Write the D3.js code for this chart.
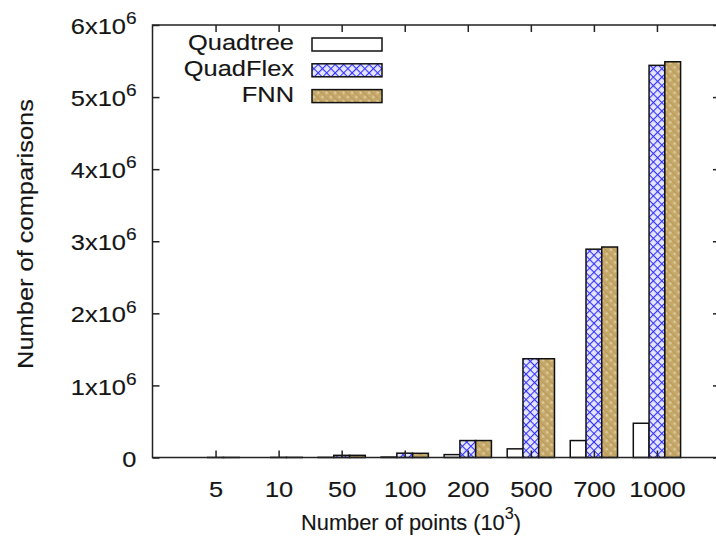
<!DOCTYPE html>
<html>
<head>
<meta charset="utf-8">
<script src="https://cdn.jsdelivr.net/npm/d3@7"></script>
<style>
  html, body { margin: 0; padding: 0; background: #fff; }
  svg { display: block; }
  text { font-family: "Liberation Sans", Arial, Helvetica, sans-serif; fill: #151515; stroke: #151515; stroke-width: 0.15; }
</style>
</head>
<body>
<svg id="chart" width="716" height="540"></svg>
<script>
// Number of comparisons per dataset size (thousands of points)
const categories = ["5", "10", "50", "100", "200", "500", "700", "1000"];
const seriesNames = ["Quadtree", "QuadFlex", "FNN"];
const quadtree = [0, 0, 2000, 6000, 40000, 120000, 235000, 475000];
const quadflex = [500, 1500, 30000, 60000, 235000, 1370000, 2890000, 5440000];
const fnn = [500, 1500, 30000, 58000, 235000, 1370000, 2920000, 5490000];
const yTicks = [0, 1e6, 2e6, 3e6, 4e6, 5e6, 6e6];

const series = [quadtree, quadflex, fnn];
const fills = ["#ffffff", "url(#hatchFlex)", "url(#hatchFnn)"];

const svg = d3.select("#chart");
const plot = { left: 152.5, right: 720, top: 25, bottom: 457.5 };
const FS = 22.5;
const SX = 1.13;   // horizontal stretch of the label lettering

const x = d3.scaleLinear().domain([-1, categories.length]).range([plot.left, plot.right]);
const y = d3.scaleLinear().domain([0, 6e6]).range([plot.bottom, plot.top]);
const barW = 0.25;

// fill patterns
const defs = svg.append("defs");
const pf = defs.append("pattern").attr("id", "hatchFlex")
  .attr("patternUnits", "userSpaceOnUse").attr("width", 6).attr("height", 6)
  .attr("patternTransform", "rotate(45)");
pf.append("rect").attr("width", 6).attr("height", 6).attr("fill", "#e6e6ff");
pf.append("line").attr("x1", 0).attr("y1", 0).attr("x2", 6).attr("y2", 0)
  .attr("stroke", "#3333ff").attr("stroke-width", 2.2);
pf.append("line").attr("x1", 0).attr("y1", 0).attr("x2", 0).attr("y2", 6)
  .attr("stroke", "#3333ff").attr("stroke-width", 2.2);

const pn = defs.append("pattern").attr("id", "hatchFnn")
  .attr("patternUnits", "userSpaceOnUse").attr("width", 6).attr("height", 6)
  .attr("patternTransform", "rotate(45)");
pn.append("rect").attr("width", 6).attr("height", 6).attr("fill", "#c5a86a");
pn.append("rect").attr("x", 1.5).attr("y", 1.5).attr("width", 2.2).attr("height", 2.2).attr("fill", "#e2d2a6");
pn.append("line").attr("x1", 0).attr("y1", 0).attr("x2", 6).attr("y2", 0)
  .attr("stroke", "#ad8d4a").attr("stroke-width", 1);

// bars
series.forEach((vals, s) => {
  svg.append("g").selectAll("rect").data(vals).join("rect")
    .attr("x", (d, i) => x(i + (s - 1) * barW - barW / 2))
    .attr("width", x(barW) - x(0))
    .attr("y", d => y(d))
    .attr("height", d => y(0) - y(d))
    .attr("fill", fills[s])
    .attr("stroke", "#111")
    .attr("stroke-width", 1.5);
});

// frame
svg.append("rect")
  .attr("x", plot.left).attr("y", plot.top)
  .attr("width", plot.right - plot.left).attr("height", plot.bottom - plot.top)
  .attr("fill", "none").attr("stroke", "#222").attr("stroke-width", 1.5);

const idx = categories.map((c, i) => i);

// bottom axis with inward ticks
const xAxis = svg.append("g").attr("transform", `translate(0,${plot.bottom})`)
  .call(d3.axisBottom(x).tickValues(idx).tickFormat(i => categories[i])
    .tickSizeInner(-7).tickSizeOuter(0).tickPadding(0));
xAxis.select(".domain").remove();
xAxis.selectAll("line").attr("stroke", "#222").attr("stroke-width", 1.5);
xAxis.selectAll("text").attr("font-size", FS).attr("y", 34).attr("dy", null)
  .attr("transform", `scale(${SX},1)`)
  .attr("dominant-baseline", "middle").attr("fill", "#151515").style("font-family", null);

// top mirrored ticks
const xTop = svg.append("g").attr("transform", `translate(0,${plot.top})`)
  .call(d3.axisTop(x).tickValues(idx).tickFormat("").tickSizeInner(-7).tickSizeOuter(0));
xTop.select(".domain").remove();
xTop.selectAll("line").attr("stroke", "#222").attr("stroke-width", 1.5);

// left axis with power-of-ten labels
const yAxis = svg.append("g").attr("transform", `translate(${plot.left},0)`)
  .call(d3.axisLeft(y).tickValues(yTicks).tickSizeInner(-7).tickSizeOuter(0).tickFormat(""));
yAxis.select(".domain").remove();
yAxis.selectAll("line").attr("stroke", "#222").attr("stroke-width", 1.5);
yAxis.selectAll(".tick").each(function (d) {
  const t = d3.select(this).select("text")
    .attr("x", -16 / SX).attr("dy", null).attr("y", 3)
    .attr("transform", `scale(${SX},1)`)
    .attr("text-anchor", "end").attr("dominant-baseline", "middle")
    .attr("font-size", FS).attr("fill", "#151515").style("font-family", null);
  if (d === 0) {
    t.text("0");
  } else {
    t.append("tspan").text(`${d / 1e6}x10`);
    t.append("tspan").attr("font-size", FS * 0.75).attr("dy", -9).text("6");
  }
});

// right mirrored ticks
const yRight = svg.append("g").attr("transform", `translate(${plot.right},0)`)
  .call(d3.axisRight(y).tickValues(yTicks).tickFormat("").tickSizeInner(-7).tickSizeOuter(0));
yRight.select(".domain").remove();
yRight.selectAll("line").attr("stroke", "#222").attr("stroke-width", 1.5);

// axis titles
svg.append("text")
  .attr("transform", `translate(27,234) rotate(-90) scale(${SX},1)`)
  .attr("text-anchor", "middle").attr("dominant-baseline", "middle")
  .attr("font-size", FS)
  .text("Number of comparisons");

const xt = svg.append("text")
  .attr("transform", "translate(411,524)")
  .attr("text-anchor", "middle").attr("dominant-baseline", "middle")
  .attr("font-size", FS * 0.97);
xt.append("tspan").text("Number of points (10");
xt.append("tspan").attr("font-size", FS * 0.72).attr("dy", -9).text("3");
xt.append("tspan").attr("dy", 9).text(")");

// legend
const legend = svg.append("g");
seriesNames.forEach((name, s) => {
  const ly = 44.5 + s * 25.8;
  legend.append("text")
    .attr("transform", `translate(294,${ly}) scale(${SX},1)`)
    .attr("text-anchor", "end").attr("dominant-baseline", "middle")
    .attr("font-size", FS)
    .text(name);
  legend.append("rect")
    .attr("x", 312).attr("y", ly - 6.5)
    .attr("width", 70).attr("height", 13)
    .attr("fill", fills[s])
    .attr("stroke", "#111").attr("stroke-width", 1.5);
});
</script>
</body>
</html>
